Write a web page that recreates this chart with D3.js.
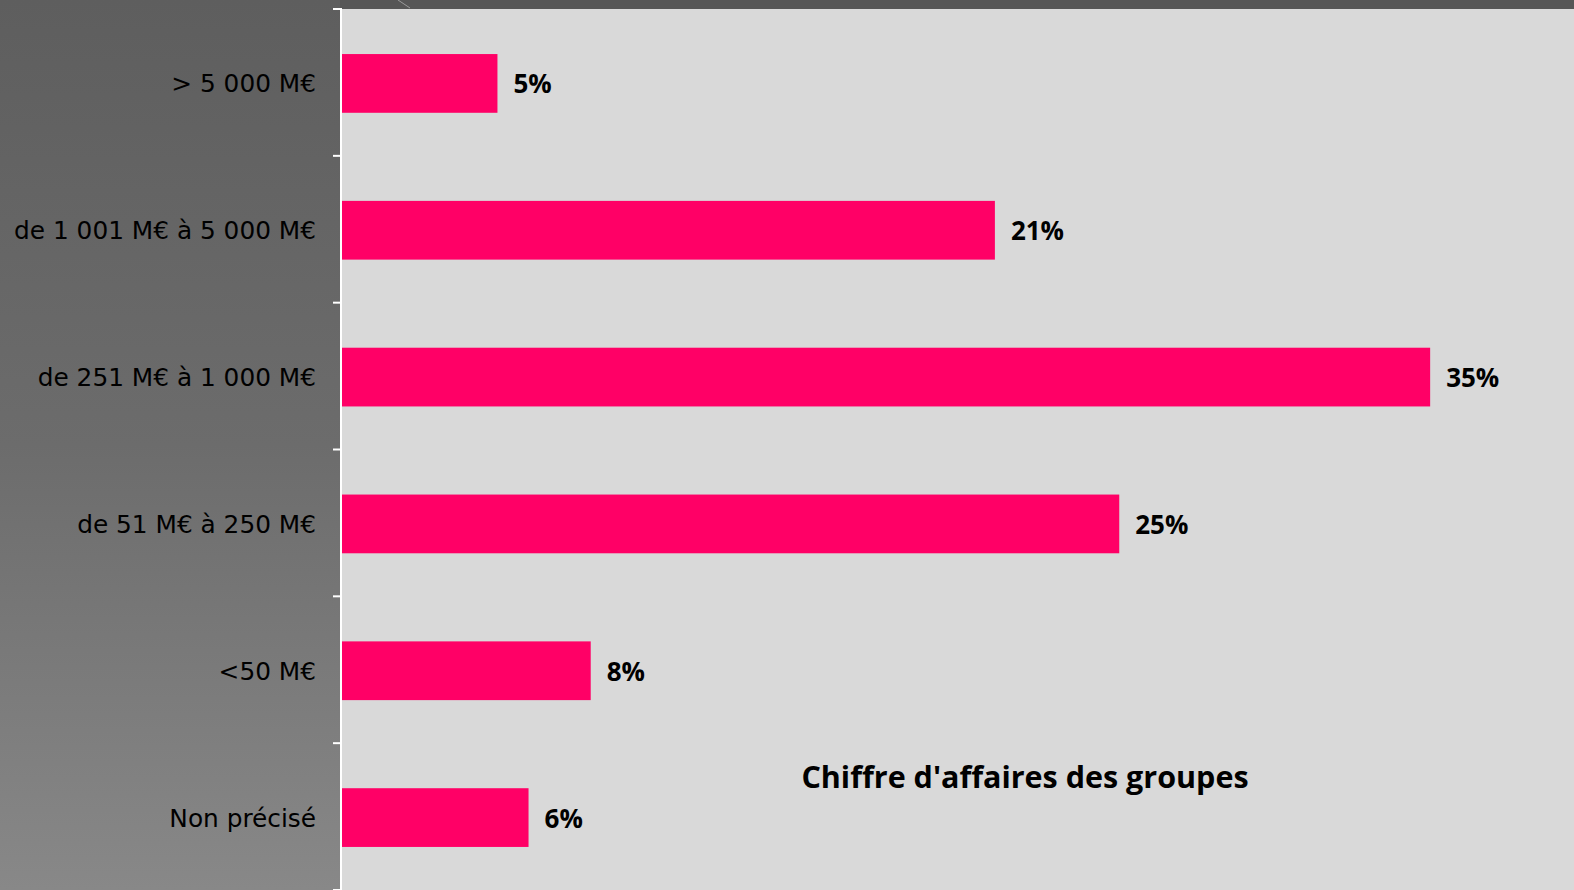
<!DOCTYPE html>
<html>
<head>
<meta charset="utf-8">
<script src="https://cdn.jsdelivr.net/npm/d3@7"></script>
<style>
  html, body { margin: 0; padding: 0; background: #5f5f5f; }
  svg { display: block; }
</style>
</head>
<body>
<svg id="chart" width="1574" height="890"></svg>
<script>
// Chiffre d'affaires des groupes — share of respondents by group revenue
const categories = [
  "> 5 000 M€",
  "de 1 001 M€ à 5 000 M€",
  "de 251 M€ à 1 000 M€",
  "de 51 M€ à 250 M€",
  "<50 M€",
  "Non précisé"
];
const values = [5, 21, 35, 25, 8, 6];
const valueLabels = ["5%", "21%", "35%", "25%", "8%", "6%"];
const chartTitle = "Chiffre d'affaires des groupes";

const W = 1574, H = 890;
const plot = { left: 342, top: 9, bottom: 890 };
const catFont = "'DejaVu Sans', 'Open Sans', sans-serif";
const boldFont = "'Open Sans', 'DejaVu Sans', sans-serif";

const svg = d3.select("#chart");
const defs = svg.append("defs");

// left panel gradient
const grad = defs.append("linearGradient")
  .attr("id", "panelGrad").attr("x1", 0).attr("y1", 0).attr("x2", 0).attr("y2", 1);
grad.append("stop").attr("offset", "0%").attr("stop-color", "#5e5e5e");
grad.append("stop").attr("offset", "50%").attr("stop-color", "#6c6c6c");
grad.append("stop").attr("offset", "100%").attr("stop-color", "#888888");

svg.append("rect").attr("x", 0).attr("y", 0).attr("width", W).attr("height", H)
  .attr("fill", "url(#panelGrad)");

// dark strip along the top
svg.append("rect").attr("x", plot.left - 2).attr("y", 0)
  .attr("width", W - plot.left + 2).attr("height", plot.top)
  .attr("fill", "#565656");
svg.append("line").attr("x1", 398).attr("y1", 0).attr("x2", 410).attr("y2", 8)
  .attr("stroke", "#9a9a9a").attr("stroke-width", 1);

// plot area
svg.append("rect").attr("x", plot.left).attr("y", plot.top)
  .attr("width", W - plot.left).attr("height", plot.bottom - plot.top)
  .attr("fill", "#d9d9d9");

const x = d3.scaleLinear().domain([0, 40]).range([plot.left, plot.left + 40 * 31.09]);
const y = d3.scaleBand().domain(categories).range([plot.top + 1, plot.bottom + 1])
  .paddingInner(0.6).paddingOuter(0.3);

// bars
svg.append("g").selectAll("rect")
  .data(categories)
  .join("rect")
  .attr("x", x(0))
  .attr("y", d => y(d))
  .attr("width", (d, i) => x(values[i]) - x(0))
  .attr("height", y.bandwidth())
  .attr("fill", "#ff0066");

// value labels
svg.append("g").selectAll("text")
  .data(categories)
  .join("text")
  .attr("x", (d, i) => x(values[i]) + 16)
  .attr("y", d => y(d) + y.bandwidth() / 2 + 10)
  .attr("font-family", boldFont)
  .attr("font-weight", "bold")
  .attr("font-size", 26)
  .attr("fill", "#000")
  .text((d, i) => valueLabels[i]);

// category axis with ticks between bands
const axisG = svg.append("g");
const step = y.step();
const boundaries = d3.range(categories.length + 1).map(i => plot.top + i * step);
axisG.append("line")
  .attr("x1", plot.left - 1).attr("x2", plot.left - 1)
  .attr("y1", plot.top).attr("y2", plot.bottom)
  .attr("stroke", "#ffffff").attr("stroke-width", 2);
axisG.selectAll("line.tick")
  .data(boundaries)
  .join("line")
  .attr("class", "tick")
  .attr("x1", plot.left - 9).attr("x2", plot.left)
  .attr("y1", d => d).attr("y2", d => d)
  .attr("stroke", "#ffffff").attr("stroke-width", 2);

axisG.selectAll("text")
  .data(categories)
  .join("text")
  .attr("x", 316)
  .attr("y", d => y(d) + y.bandwidth() / 2 + 9)
  .attr("text-anchor", "end")
  .attr("font-family", catFont)
  .attr("font-size", 24.8)
  .attr("fill", "#000")
  .text(d => d);

// title
svg.append("text")
  .attr("x", 1025).attr("y", 788)
  .attr("text-anchor", "middle")
  .attr("font-family", boldFont)
  .attr("font-weight", "bold")
  .attr("font-size", 30.5)
  .attr("fill", "#000")
  .text(chartTitle);
</script>
</body>
</html>
